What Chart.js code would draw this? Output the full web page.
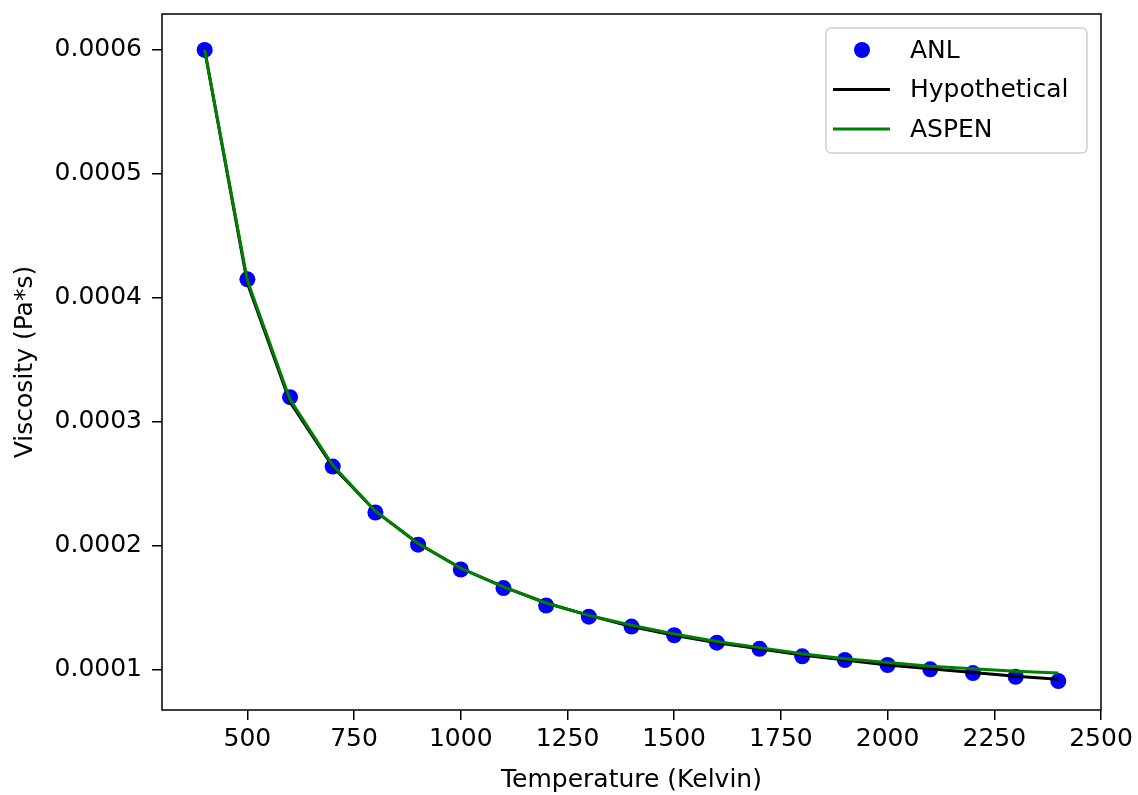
<!DOCTYPE html>
<html>
<head>
<meta charset="utf-8">
<script src="https://cdn.jsdelivr.net/npm/chart.js@4/dist/chart.umd.min.js"></script>
<style>
  html, body { margin: 0; padding: 0; background: #fff; }
  #wrap { width: 1138px; height: 795px; }
</style>
</head>
<body>
<div id="wrap"><canvas id="viscChart" width="1138" height="795"></canvas></div>
<script>
// temperature (K) and viscosity (Pa*s)
var temps = [400, 500, 600, 700, 800, 900, 1000, 1100, 1200, 1300, 1400,
  1500, 1600, 1700, 1800, 1900, 2000, 2100, 2200, 2300, 2400];
var anlVisc = [0.0006, 0.000415, 0.00032, 0.000264, 0.000227, 0.000201, 0.000181,
  0.000166, 0.000152, 0.000143, 0.000135, 0.000128, 0.000122, 0.000117, 0.000111,
  0.000108, 0.000104, 0.0001005, 0.0000975, 0.0000945, 0.000091];
var hypVisc = [0.0006, 0.000412, 0.000316, 0.000264, 0.000228, 0.000202, 0.000182,
  0.000167, 0.000154, 0.000144, 0.000135, 0.000128, 0.000122, 0.000117, 0.000112,
  0.000108, 0.000104, 0.000101, 0.000098, 0.000095, 0.0000925];
var aspenVisc = [0.0006, 0.000414, 0.000318, 0.000265, 0.000228, 0.000202, 0.000182,
  0.000167, 0.000154, 0.000144, 0.000136, 0.000129, 0.000123, 0.000118, 0.000113,
  0.000109, 0.000106, 0.000103, 0.000101, 0.000099, 0.0000975];
var xTicks = [500, 750, 1000, 1250, 1500, 1750, 2000, 2250, 2500];
var yTicks = [0.0001, 0.0002, 0.0003, 0.0004, 0.0005, 0.0006];

function toPoints(ys) {
  return temps.map(function(t, i) { return {x: t, y: ys[i]}; });
}

var FONT = "'DejaVu Sans', sans-serif";
var FS = 25;

// black frame round the plot area
var framePlugin = {
  id: 'frame',
  afterDatasetsDraw: function(chart) {
    var a = chart.chartArea, ctx = chart.ctx;
    ctx.save();
    ctx.strokeStyle = '#000';
    ctx.lineWidth = 1.5;
    ctx.strokeRect(a.left, a.top, a.right - a.left, a.bottom - a.top);
    ctx.restore();
  }
};

// legend box in the upper right, drawn like matplotlib's
var legendPlugin = {
  id: 'boxLegend',
  afterDraw: function(chart) {
    var ctx = chart.ctx;
    var x0 = 826, y0 = 28, w = 261, h = 125;
    ctx.save();
    ctx.fillStyle = 'rgba(255,255,255,0.8)';
    ctx.strokeStyle = '#d0d0d0';
    ctx.lineWidth = 1.5;
    ctx.beginPath();
    ctx.roundRect(x0, y0, w, h, 5);
    ctx.fill();
    ctx.stroke();
    ctx.font = FS + 'px ' + FONT;
    ctx.textBaseline = 'middle';
    chart.data.datasets.forEach(function(ds, i) {
      var cy = y0 + 22 + i * 39.5;
      if (ds.showLine) {
        ctx.strokeStyle = ds.borderColor;
        ctx.lineWidth = ds.borderWidth;
        ctx.beginPath();
        ctx.moveTo(833, cy);
        ctx.lineTo(890, cy);
        ctx.stroke();
      } else {
        ctx.fillStyle = ds.backgroundColor;
        ctx.beginPath();
        ctx.arc(862, cy, ds.pointRadius, 0, Math.PI * 2);
        ctx.fill();
      }
      ctx.fillStyle = '#000';
      ctx.fillText(ds.label, 910, cy + 1);
    });
    ctx.restore();
  }
};

var ctx = document.getElementById('viscChart');
var viscChart = new Chart(ctx, {
  type: 'scatter',
  data: {
    datasets: [{
      label: 'ANL',
      data: toPoints(anlVisc),
      showLine: false,
      pointRadius: 8,
      pointBackgroundColor: '#0000ff',
      backgroundColor: '#0000ff',
      borderColor: '#0000ff',
      pointBorderWidth: 0,
      order: 3
    }, {
      label: 'Hypothetical',
      data: toPoints(hypVisc),
      showLine: true,
      pointRadius: 0,
      borderColor: '#000000',
      backgroundColor: '#000000',
      borderWidth: 3,
      order: 2
    }, {
      label: 'ASPEN',
      data: toPoints(aspenVisc),
      showLine: true,
      pointRadius: 0,
      borderColor: '#008000',
      backgroundColor: '#008000',
      borderWidth: 3,
      order: 1
    }]
  },
  options: {
    responsive: false,
    animation: false,
    layout: { padding: { top: 14, right: 37, left: 0, bottom: 0 } },
    plugins: {
      legend: { display: false },
      tooltip: { enabled: false }
    },
    scales: {
      x: {
        type: 'linear',
        min: 300,
        max: 2500,
        afterBuildTicks: function(scale) {
          scale.ticks = xTicks.map(function(v) { return {value: v}; });
        },
        afterFit: function(scale) { scale.height = 85; },
        grid: { drawOnChartArea: false, drawTicks: true, tickLength: 10, color: '#000', lineWidth: 1.5 },
        border: { display: false },
        ticks: {
          color: '#000', font: { family: FONT, size: FS }, padding: 4, maxRotation: 0,
          callback: function(v) { return String(v); }
        },
        title: { display: true, text: 'Temperature (Kelvin)', color: '#000',
          font: { family: FONT, size: FS }, padding: { top: -2, bottom: 0 } }
      },
      y: {
        type: 'linear',
        min: 0.0000677,
        max: 0.000629,
        afterBuildTicks: function(scale) {
          scale.ticks = yTicks.map(function(v) { return {value: v}; });
        },
        afterFit: function(scale) {
          scale.width = 162;
          scale.paddingTop = 0;
          scale.paddingBottom = 0;
        },
        grid: { drawOnChartArea: false, drawTicks: true, tickLength: 10, color: '#000', lineWidth: 1.5 },
        border: { display: false },
        ticks: {
          color: '#000', font: { family: FONT, size: FS }, padding: 10,
          callback: function(v) { return v.toFixed(4); }
        },
        title: { display: true, text: 'Viscosity (Pa*s)', color: '#000',
          font: { family: FONT, size: FS }, padding: { top: 10, bottom: 0 } }
      }
    }
  },
  plugins: [framePlugin, legendPlugin]
});
</script>
</body>
</html>
